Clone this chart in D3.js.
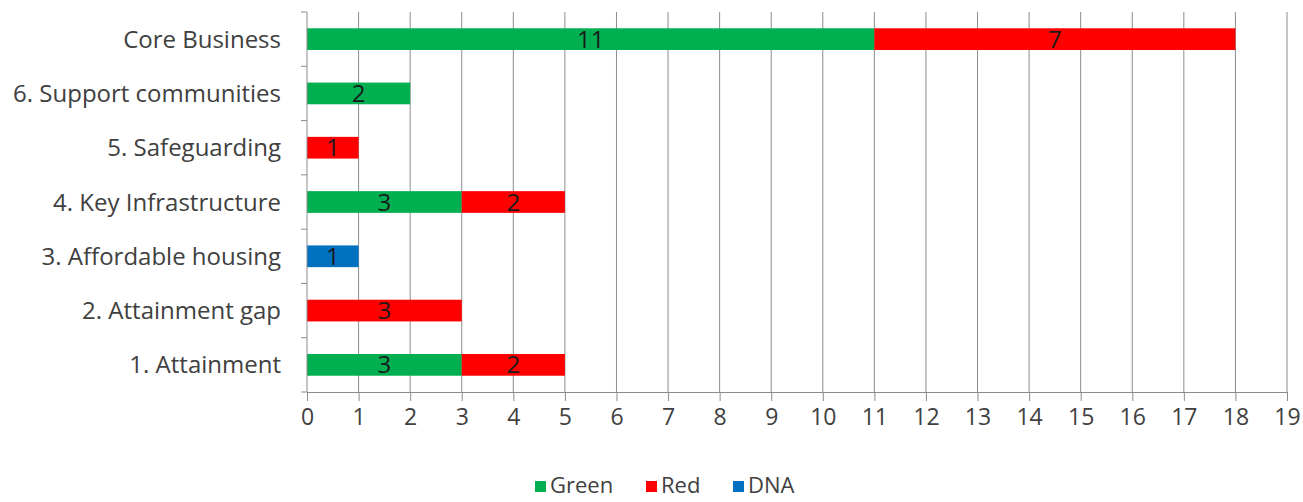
<!DOCTYPE html>
<html>
<head>
<meta charset="utf-8">
<script src="https://cdn.jsdelivr.net/npm/d3@7"></script>
<style>
  html, body { margin: 0; padding: 0; background: #fff; }
  svg { display: block; font-family: "Open Sans", Lato, sans-serif; }
</style>
</head>
<body>
<svg id="chart" width="1303" height="502"></svg>
<script>
// Categories listed bottom-to-top as they appear on the axis
const categories = [
  "1. Attainment",
  "2. Attainment gap",
  "3. Affordable housing",
  "4. Key Infrastructure",
  "5. Safeguarding",
  "6. Support communities",
  "Core Business"
];
const greenValues = [3, 0, 0, 3, 0, 2, 11];
const redValues   = [2, 3, 0, 2, 1, 0, 7];
const dnaValues   = [0, 0, 1, 0, 0, 0, 0];
const seriesNames = ["Green", "Red", "DNA"];
const seriesColors = ["#00B050", "#FF0000", "#0070C0"];
const xTicks = d3.range(0, 20);

const FONT = "'Open Sans', Lato, sans-serif";
const svg = d3.select("#chart");
const margin = { left: 307, right: 16, top: 12, bottom: 110 };
const width = 1303, height = 502;
const plotW = width - margin.left - margin.right;
const plotH = height - margin.top - margin.bottom;

const rows = categories.map((c, i) => ({
  category: c, Green: greenValues[i], Red: redValues[i], DNA: dnaValues[i]
}));
const stacked = d3.stack().keys(seriesNames)(rows);

const x = d3.scaleLinear().domain([0, 19]).range([0, plotW]);
const y = d3.scaleBand().domain(categories.slice().reverse()).range([0, plotH]).paddingInner(0.6).paddingOuter(0.3);
const color = d3.scaleOrdinal().domain(seriesNames).range(seriesColors);

const g = svg.append("g").attr("transform", `translate(${margin.left},${margin.top})`);

// vertical gridlines
g.append("g").selectAll("line").data(xTicks.slice(1)).join("line")
  .attr("x1", d => x(d)).attr("x2", d => x(d))
  .attr("y1", 0).attr("y2", plotH)
  .attr("stroke", "#8c8c8c").attr("stroke-width", 1);

// bars
const layer = g.append("g").selectAll("g").data(stacked).join("g")
  .attr("fill", d => color(d.key));
layer.selectAll("rect").data(d => d.filter(s => s[1] - s[0] > 0)).join("rect")
  .attr("x", d => x(d[0]))
  .attr("width", d => x(d[1]) - x(d[0]))
  .attr("y", d => y(d.data.category))
  .attr("height", y.bandwidth());

// value labels inside segments
const labels = g.append("g");
stacked.forEach(s => {
  s.filter(d => d[1] - d[0] > 0).forEach(d => {
    labels.append("text")
      .attr("x", x((d[0] + d[1]) / 2))
      .attr("y", y(d.data.category) + y.bandwidth() / 2)
      .attr("dy", "0.36em")
      .attr("text-anchor", "middle")
      .attr("font-size", 24)
      .attr("fill", "#1a1a1a")
      .text(d[1] - d[0]);
  });
});

// x axis
const xAxis = g.append("g").attr("transform", `translate(0,${plotH})`)
  .call(d3.axisBottom(x).tickValues(xTicks).tickSize(9).tickPadding(8).tickFormat(d3.format("d")));
xAxis.select(".domain").attr("stroke", "#8c8c8c");
xAxis.selectAll(".tick line").attr("stroke", "#8c8c8c");
xAxis.selectAll("text").attr("font-size", 23).attr("fill", "#404040")
  .attr("font-family", FONT);

// y axis: tick marks between categories
const yAxisG = g.append("g");
yAxisG.append("line").attr("x1", 0).attr("x2", 0).attr("y1", 0).attr("y2", plotH)
  .attr("stroke", "#8c8c8c");
const step = plotH / categories.length;
yAxisG.selectAll("line.tk").data(d3.range(categories.length + 1)).join("line")
  .attr("class", "tk")
  .attr("x1", -6).attr("x2", 0)
  .attr("y1", d => d * step).attr("y2", d => d * step)
  .attr("stroke", "#8c8c8c");
yAxisG.selectAll("text").data(categories).join("text")
  .attr("x", -26)
  .attr("y", d => y(d) + y.bandwidth() / 2)
  .attr("dy", "0.36em")
  .attr("text-anchor", "end")
  .attr("font-size", 24)
  .attr("fill", "#404040")
  .text(d => d);

// legend
const legend = svg.append("g").attr("transform", "translate(535,486)");
const legendX = [0, 111, 198];
seriesNames.forEach((n, i) => {
  const lg = legend.append("g").attr("transform", `translate(${legendX[i]},0)`);
  lg.append("rect").attr("x", 0).attr("y", -5).attr("width", 11).attr("height", 11)
    .attr("fill", seriesColors[i]);
  lg.append("text").attr("x", 15).attr("y", 0).attr("dy", "0.33em")
    .attr("font-size", 22).attr("fill", "#404040").text(n);
});
</script>
</body>
</html>
